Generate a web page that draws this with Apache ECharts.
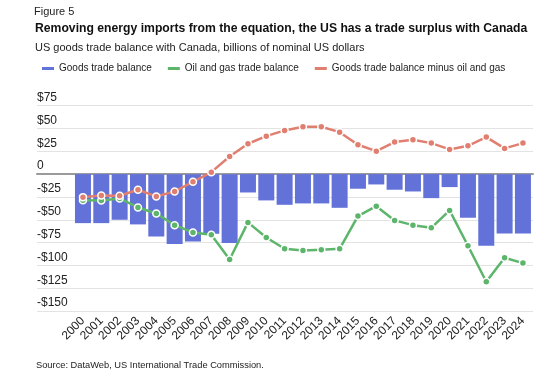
<!DOCTYPE html>
<html><head><meta charset="utf-8">
<script src="https://cdn.jsdelivr.net/npm/echarts@6/dist/echarts.min.js"></script>
<style>html,body{margin:0;padding:0;background:#fff}#c{width:550px;height:389px}</style>
</head><body><div id="c"></div>
<script>
const years = ['2000','2001','2002','2003','2004','2005','2006','2007','2008','2009','2010','2011','2012','2013','2014','2015','2016','2017','2018','2019','2020','2021','2022','2023','2024'];
const goodsBalance = [-53.7,-53.7,-50,-55.1,-68.3,-76.7,-73.8,-65.4,-75.6,-20.1,-28.8,-33.6,-32.1,-32.1,-36.9,-16,-11.3,-17.1,-19,-26.3,-14.2,-47.8,-78.5,-65,-65];
const oilGasBalance = [-28.5,-28.8,-26.6,-36.5,-43.1,-55.9,-63.9,-66.4,-93.5,-52.9,-69.4,-81.8,-83.6,-82.9,-81.8,-46,-35.1,-50.7,-55.9,-58.8,-39.8,-78.5,-117.9,-91.6,-97.5];
const minusOilGas = [-25.2,-23.3,-23.7,-17.1,-24.4,-19,-8.4,2.2,19.4,33.3,41.6,47.9,51.9,51.9,46,32.2,25.2,35.1,37.7,34,27.1,31.1,40.6,28.2,34];
const yTicks = {min:-150, max:75, interval:25};

const FONT = '"Liberation Sans", Arial, sans-serif';
const chart = echarts.init(document.getElementById('c'), null, {renderer:'canvas'});
const gTop = 105.7, gBottom = 78;
chart.setOption({
  animation:false,
  textStyle:{fontFamily:FONT},
  graphic:[
    {type:'text', left:34, top:6.5, style:{text:'Figure 5', font:'11px '+FONT, fill:'#222'}},
    {type:'text', left:35, top:22.5, style:{text:'Removing energy imports from the equation, the US has a trade surplus with Canada', font:'bold 12.2px '+FONT, fill:'#111'}},
    {type:'text', left:35, top:42, style:{text:'US goods trade balance with Canada, billions of nominal US dollars', font:'11px '+FONT, fill:'#222'}},
    {type:'text', left:36, top:361, style:{text:'Source: DataWeb, US International Trade Commission.', font:'9.3px '+FONT, fill:'#222'}}
  ],
  legend:{
    left:42, top:63.5, padding:0, itemWidth:12, itemHeight:3, itemGap:16,
    itemStyle:{borderWidth:0},
    textStyle:{fontSize:10, color:'#222', fontFamily:FONT},
    data:[{name:'Goods trade balance',icon:'rect'},{name:'Oil and gas trade balance',icon:'rect'},{name:'Goods trade balance minus oil and gas',icon:'rect'}]
  },
  grid:[
    {left:37, right:17, top:gTop, bottom:gBottom},
    {left:73.8, right:17.9, top:gTop, bottom:gBottom}
  ],
  xAxis:[
    {type:'value', gridIndex:0, min:0, max:1, axisLine:{show:true, onZero:true, lineStyle:{color:'#9a9a9a', width:2}}, axisTick:{show:false}, axisLabel:{show:false}, splitLine:{show:false}},
    {type:'category', gridIndex:1, data:years, axisLine:{show:false}, axisTick:{show:false},
     axisLabel:{rotate:45, fontSize:12, color:'#222', margin:8, interval:0}}
  ],
  yAxis:[
    {type:'value', gridIndex:0, min:yTicks.min, max:yTicks.max, interval:yTicks.interval,
     axisLine:{show:false}, axisTick:{show:false},
     splitLine:{lineStyle:{color:'#e3e3e3', width:1}},
     axisLabel:{inside:true, margin:0, verticalAlign:'bottom', padding:[0,0,2,0], fontSize:12, color:'#222',
       formatter:v=> v===0?'0':(v<0?'-$'+(-v):'$'+v)}},
    {type:'value', gridIndex:1, min:yTicks.min, max:yTicks.max, interval:yTicks.interval, show:false}
  ],
  series:[
    {name:'Goods trade balance', type:'bar', xAxisIndex:1, yAxisIndex:1, data:goodsBalance, barWidth:16, itemStyle:{color:'#6272d8'}},
    {name:'Oil and gas trade balance', type:'line', xAxisIndex:1, yAxisIndex:1, data:oilGasBalance, symbol:'circle', symbolSize:7,
     lineStyle:{color:'#5db56b', width:2.5}, itemStyle:{color:'#5db56b', borderColor:'#fff', borderWidth:1.5}},
    {name:'Goods trade balance minus oil and gas', type:'line', xAxisIndex:1, yAxisIndex:1, data:minusOilGas, symbol:'circle', symbolSize:7,
     lineStyle:{color:'#e07f70', width:2.5}, itemStyle:{color:'#e07f70', borderColor:'#fff', borderWidth:1.5}}
  ]
});
</script></body></html>
